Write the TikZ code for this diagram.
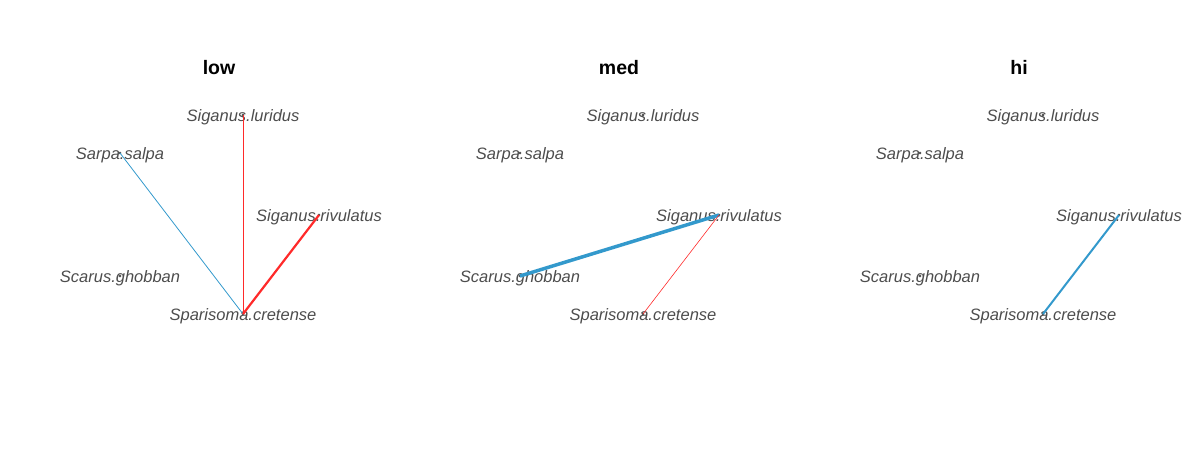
\documentclass[tikz,border=0pt]{standalone}
\usepackage{fontspec}
\setmainfont{Liberation Sans}
\definecolor{spgrey}{HTML}{4D4D4D}
\definecolor{linkred}{HTML}{FF2A2A}
\definecolor{linkblue}{HTML}{3399CC}

\begin{document}
\begin{tikzpicture}[x=1pt,y=-1pt,
  sp/.style={text=spgrey,inner sep=0pt,yshift=-1.8pt,font=\itshape\fontsize{16.5}{18}\selectfont},
  vtx/.style={circle,draw=black,fill=white,inner sep=0pt,minimum size=2.4pt,line width=0.35pt},
  ttl/.style={inner sep=0pt,font=\bfseries\fontsize{19.5}{22}\selectfont},
  neglink/.style={draw=linkred},
  poslink/.style={draw=linkblue}]
\useasboundingbox (0,0) rectangle (1200,450);

% the same five species in each panel
\foreach \p/\dx/\t in {l/0/low,m/400/med,h/800/hi}{
  \node[ttl,anchor=base] (\p-title) at (219+\dx,74) {\t};
  \foreach \s/\x/\y/\n in {lur/243/115/Siganus.luridus,sar/120/153/Sarpa.salpa,
      riv/319/215/Siganus.rivulatus,gho/120/276/Scarus.ghobban,
      cre/243/314/Sparisoma.cretense}{
    \node[vtx] (\p-\s) at (\x+\dx,\y) {};
    \node[sp] (\p-\s-lab) at (\p-\s.center) {\n};
  }
}

% low
\draw[poslink,line width=0.8pt] (l-sar.center) -- (l-cre.center);
\draw[neglink,line width=0.8pt] (l-lur.center) -- (l-cre.center);
\draw[neglink,line width=2.2pt] (l-riv.center) -- (l-cre.center);

% med
\draw[poslink,line width=3.5pt] (m-gho.center) -- (m-riv.center);
\draw[neglink,line width=0.6pt] (m-riv.center) -- (m-cre.center);

% hi
\draw[poslink,line width=2pt] (h-riv.center) -- (h-cre.center);
\end{tikzpicture}
\end{document}
